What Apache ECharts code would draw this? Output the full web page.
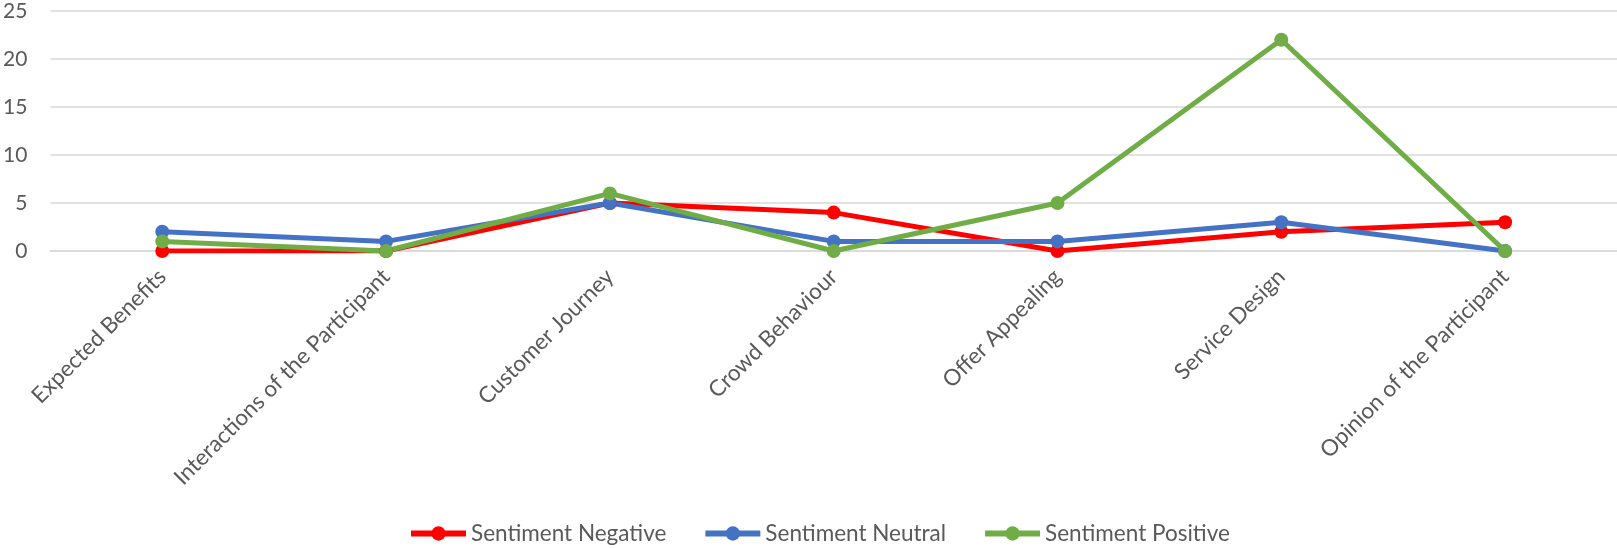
<!DOCTYPE html>
<html>
<head>
<meta charset="utf-8">
<script src="https://cdn.jsdelivr.net/npm/echarts@6/dist/echarts.min.js"></script>
<style>
  html, body { margin: 0; padding: 0; background: #ffffff; }
  #chart { width: 1617px; height: 548px; }
</style>
</head>
<body>
<div id="chart"></div>
<script>
// Topic categories along the horizontal axis
const categories = [
  'Expected Benefits',
  'Interactions of the Participant',
  'Customer Journey',
  'Crowd Behaviour',
  'Offer Appealing',
  'Service Design',
  'Opinion of the Participant'
];

// Counts per sentiment
const negativeValues = [0, 0, 5, 4, 0, 2, 3];
const neutralValues  = [2, 1, 5, 1, 1, 3, 0];
const positiveValues = [1, 0, 6, 0, 5, 22, 0];

const seriesNames = ['Sentiment Negative', 'Sentiment Neutral', 'Sentiment Positive'];
const yTicks = { min: 0, max: 25, step: 5 };

const textColor = '#595959';
const fontFamily = 'Lato, "Open Sans", sans-serif';

function lineSeries(name, data, color) {
  return {
    name: name,
    type: 'line',
    data: data,
    symbol: 'circle',
    symbolSize: 14,
    itemStyle: { color: color },
    lineStyle: { color: color, width: 5 },
    emphasis: { disabled: true }
  };
}

const chart = echarts.init(document.getElementById('chart'), null, { renderer: 'canvas' });
chart.setOption({
  animation: false,
  backgroundColor: '#ffffff',
  grid: { left: 50, right: 0, top: 11, bottom: 297, containLabel: false },
  xAxis: {
    type: 'category',
    data: categories,
    boundaryGap: true,
    axisLine: { show: true, lineStyle: { color: '#D9D9D9', width: 1.5 } },
    axisTick: { show: false },
    axisLabel: {
      interval: 0,
      rotate: 45,
      margin: 22,
      color: textColor,
      fontSize: 22.5,
      fontFamily: fontFamily
    }
  },
  yAxis: {
    type: 'value',
    min: yTicks.min,
    max: yTicks.max,
    interval: yTicks.step,
    axisLine: { show: false },
    axisTick: { show: false },
    splitLine: { lineStyle: { color: '#D9D9D9', width: 1.5 } },
    axisLabel: {
      margin: 23,
      color: textColor,
      fontSize: 21,
      fontFamily: fontFamily
    }
  },
  legend: {
    data: seriesNames,
    top: 517,
    left: 403,
    itemWidth: 55,
    itemHeight: 18,
    itemGap: 36,
    lineStyle: { width: 6 },
    textStyle: { color: textColor, fontSize: 22.5, fontFamily: fontFamily }
  },
  series: [
    lineSeries(seriesNames[0], negativeValues, '#FF0000'),
    lineSeries(seriesNames[1], neutralValues, '#4472C4'),
    lineSeries(seriesNames[2], positiveValues, '#70AD47')
  ]
});
</script>
</body>
</html>
